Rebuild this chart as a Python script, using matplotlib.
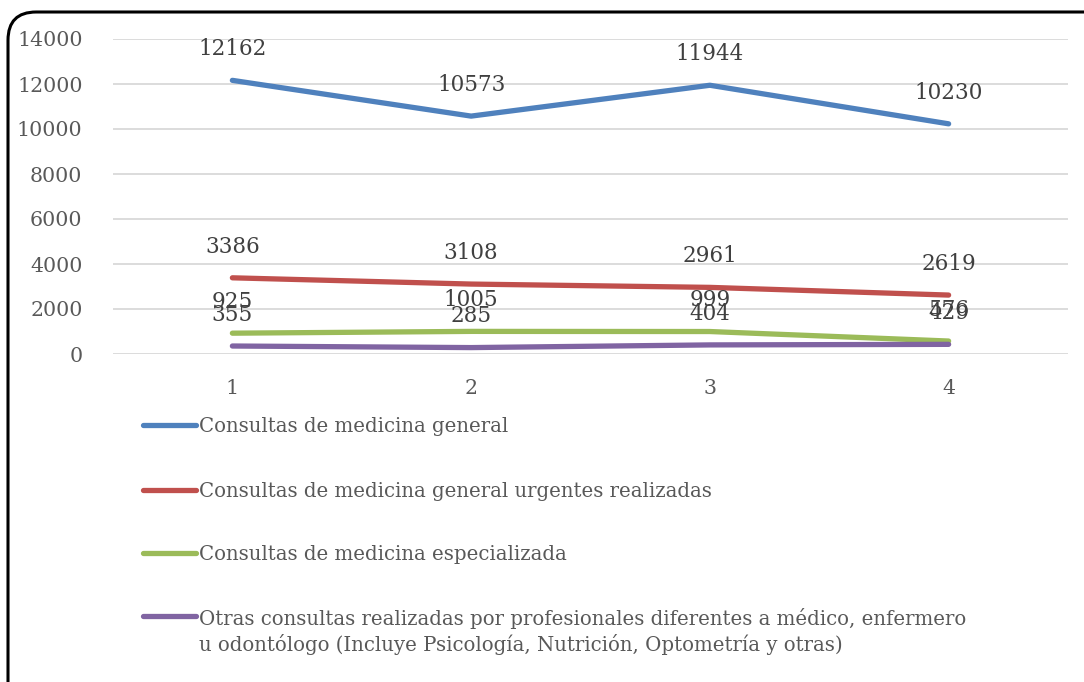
import matplotlib
matplotlib.use("Agg")
import matplotlib.pyplot as plt
from matplotlib.patches import FancyBboxPatch
from matplotlib.lines import Line2D

# Quarterly consultation counts
periods = [1, 2, 3, 4]
medicina_general = [12162, 10573, 11944, 10230]
urgentes = [3386, 3108, 2961, 2619]
especializada = [925, 1005, 999, 576]
otras = [355, 285, 404, 429]

series_labels = [
    "Consultas de medicina general",
    "Consultas de medicina general urgentes realizadas",
    "Consultas de medicina especializada",
    "Otras consultas realizadas por profesionales diferentes a médico, enfermero\n"
    "u odontólogo (Incluye Psicología, Nutrición, Optometría y otras)",
]
series_values = [medicina_general, urgentes, especializada, otras]
series_colors = ["#4F81BD", "#C0504D", "#9BBB59", "#8064A2"]
y_ticks = [0, 2000, 4000, 6000, 8000, 10000, 12000, 14000]

plt.rcParams["font.family"] = ["DejaVu Serif"]
text_color = "#595959"

W, H = 1084, 682
fig = plt.figure(figsize=(W / 100, H / 100), dpi=100)
fig.patch.set_facecolor("white")

# Rounded frame around the chart
frame = FancyBboxPatch((8 / W, -40 / H), (W + 40) / W, (H + 28) / H,
                       boxstyle="round,pad=0,rounding_size=0.026",
                       transform=fig.transFigure, facecolor="none",
                       edgecolor="black", linewidth=2.2, zorder=0)
frame.set_mutation_aspect(W / H)
fig.patches.append(frame)

ax = fig.add_axes([113 / W, 1 - 354 / H, (1068 - 113) / W, (354 - 39) / H])
ax.set_xlim(0.5, 4.5)
ax.set_ylim(0, 14000)
ax.set_yticks(y_ticks)
ax.set_xticks(periods)
ax.grid(axis="y", color="#D9D9D9", linewidth=1.3)
ax.set_axisbelow(True)
for s in ax.spines.values():
    s.set_visible(False)
ax.tick_params(axis="both", length=0, labelsize=14.8, labelcolor=text_color)
ax.tick_params(axis="y", pad=22)
ax.tick_params(axis="x", pad=18)

for vals, col in zip(series_values, series_colors):
    ax.plot(periods, vals, color=col, linewidth=3.8,
            solid_capstyle="round", zorder=3)
    for x, v in zip(periods, vals):
        ax.annotate(str(v), (x, v), xytext=(0, 22.5), textcoords="offset points",
                    ha="center", va="center", fontsize=15.5, color="#404040",
                    zorder=4)

# Legend drawn as a key below the plot (handle aligned with the first text line)
key_rows = [425, 490, 553, 616]
for lab, col, yrow in zip(series_labels, series_colors, key_rows):
    yf = 1 - yrow / H
    fig.add_artist(Line2D([143 / W, 196 / W], [yf, yf], transform=fig.transFigure,
                          color=col, linewidth=3.8, solid_capstyle="round"))
    fig.text(199 / W, 1 - (yrow - 8) / H, lab, ha="left", va="top",
             fontsize=14.2, color=text_color, linespacing=1.32)

fig.savefig("out.png", dpi=100, facecolor="white")
